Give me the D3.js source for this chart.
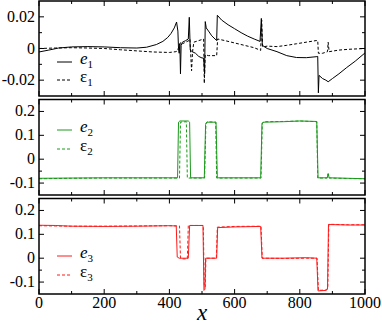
<!DOCTYPE html>
<html><head><meta charset="utf-8">
<script src="https://cdn.jsdelivr.net/npm/d3@7"></script>
<style>body{margin:0;background:#fff}svg{display:block}text{font-family:"Liberation Serif","Times New Roman",Times,"DejaVu Serif",serif}</style>
</head><body>
<script>
// ---- data ----
const xTicks = [0,200,400,600,800,1000];
const xMinor = [100,300,500,700,900];
const yTicks1 = [-0.02,0,0.02];
const yMinor1 = [-0.01,0.01];
const yTicks23 = [-0.1,0,0.1,0.2];
const yMinor23 = [-0.05];
const yLabels1 = ["-0.02","0","0.02"];
const yLabels23 = ["-0.1","0","0.1","0.2"];

const e1 = [[0,-0.0022],[30,-0.001],[60,0.0003],[100,0.001],[150,0.0012],[200,0.001],[250,0.0005],[300,0.0003],[330,0.0008],[360,0.0025],[380,0.0045],[395,0.007],[405,0.0095],[415,0.013],[422,0.0167],[426,0.011],[428,0.0],[430,-0.003],[432,0.003],[434,-0.016],[436,0.002],[440,0.004],[450,0.005],[458,0.006],[461,0.0197],[464,-0.001],[470,-0.002],[480,-0.003],[490,-0.005],[500,-0.006],[505,-0.006],[508,-0.016],[510,0.017],[513,0.013],[520,0.011],[530,0.008],[540,0.006],[545,0.005],[547,0.021],[560,0.018],[580,0.015],[600,0.0125],[620,0.01],[640,0.0078],[660,0.006],[678,0.0045],[682,0.019],[685,0.002],[700,0.0],[730,-0.002],[760,-0.0045],[790,-0.0057],[820,-0.0058],[850,-0.0052],[855,-0.005],[857,-0.028],[859,-0.017],[870,-0.019],[880,-0.02],[887,-0.021],[900,-0.019],[920,-0.016],[944,-0.012],[970,-0.008],[1000,-0.0028]];
const eps1 = [[0,0],[50,0.0003],[100,0.0005],[150,0.0003],[200,0],[250,-0.0008],[300,-0.0015],[350,-0.0022],[400,-0.0025],[420,-0.002],[425,-0.0015],[430,0.002],[435,0.004],[440,0.003],[450,0.004],[460,0.005],[463,0.006],[468,-0.014],[471,-0.002],[475,0.004],[490,0.005],[505,0.006],[507,-0.022],[510,-0.004],[520,-0.0045],[545,-0.0045],[548,0.006],[570,0.005],[600,0.0035],[630,0.002],[660,0.0005],[680,-0.0012],[683,0.018],[686,0.001],[700,0.0015],[730,0.0012],[760,0.002],[790,0.003],[820,0.004],[850,0.005],[855,0.005],[857,-0.003],[870,-0.003],[885,-0.002],[887,0.004],[890,-0.002],[920,-0.001],[950,-0.0005],[1000,0]];

const e2 = [[0,-0.08],[100,-0.079],[200,-0.078],[300,-0.078],[400,-0.078],[425,-0.078],[428,0.155],[432,0.16],[458,0.16],[462,0.155],[465,-0.078],[507,-0.078],[511,0.145],[515,0.155],[543,0.155],[547,-0.078],[680,-0.078],[684,0.15],[690,0.155],[750,0.157],[800,0.16],[852,0.158],[856,-0.078],[884,-0.078],[887,-0.06],[890,-0.078],[950,-0.08],[1000,-0.082]];
const eps2 = [[0,-0.082],[100,-0.08],[200,-0.079],[300,-0.079],[400,-0.079],[431,-0.079],[434,0.155],[452,0.157],[455,-0.079],[508,-0.079],[512,0.15],[516,0.157],[542,0.155],[545,-0.079],[681,-0.079],[685,0.152],[690,0.157],[750,0.158],[800,0.16],[852,0.157],[855,-0.079],[884,-0.079],[887,-0.062],[890,-0.079],[950,-0.081],[1000,-0.082]];

const e3 = [[0,0.138],[50,0.137],[100,0.134],[200,0.133],[300,0.134],[400,0.136],[421,0.135],[424,0.005],[430,0.0],[458,0.0],[462,0.137],[503,0.137],[506,-0.135],[509,-0.13],[511,0.0],[545,0.0],[548,0.128],[600,0.131],[680,0.133],[684,0.0],[750,0.0],[820,0.002],[852,0.0],[856,-0.137],[880,-0.135],[885,-0.13],[888,0.141],[950,0.139],[1000,0.139]];
const eps3 = [[0,0.136],[100,0.134],[200,0.134],[300,0.135],[400,0.136],[431,0.135],[434,0.0],[440,-0.003],[455,-0.003],[458,0.137],[504,0.137],[507,-0.12],[510,-0.12],[512,0.0],[544,0.0],[547,0.13],[600,0.133],[681,0.134],[685,0.0],[750,-0.001],[820,0.0],[853,0.0],[857,-0.135],[882,-0.133],[886,-0.12],[889,0.142],[950,0.14],[1000,0.14]];

const legendNames = [["e","1","ε","1"],["e","2","ε","2"],["e","3","ε","3"]];
const colors = ["#000000","#1a9a1a","#ff1a1a"];

// ---- layout ----
const W = 382, H = 326;
const left = 39, right = 365;
const panels = [
  {top:1, bottom:96, dom:[-0.03,0.03], ticks:yTicks1, minor:yMinor1, labels:yLabels1, s:e1, d:eps1, leg:[62,80]},
  {top:99.5, bottom:195, dom:[-0.15,0.25], ticks:yTicks23, minor:yMinor23, labels:yLabels23, s:e2, d:eps2, leg:[130,149]},
  {top:198.5, bottom:294, dom:[-0.15,0.25], ticks:yTicks23, minor:yMinor23, labels:yLabels23, s:e3, d:eps3, leg:[256,275]}
];

const svg = d3.select("body").append("svg").attr("width",W).attr("height",H);
svg.append("rect").attr("width",W).attr("height",H).attr("fill","#fff");
const x = d3.scaleLinear().domain([0,1000]).range([left,right]);

panels.forEach((p,i)=>{
  const y = d3.scaleLinear().domain(p.dom).range([p.bottom,p.top]);
  const clipId = "clip"+i;
  svg.append("clipPath").attr("id",clipId).append("rect")
    .attr("x",left).attr("y",p.top).attr("width",right-left).attr("height",p.bottom-p.top);
  const line = d3.line().x(d=>x(d[0])).y(d=>y(d[1]));
  const g = svg.append("g").attr("clip-path",`url(#${clipId})`);
  g.append("path").datum(p.d).attr("d",line).attr("fill","none")
    .attr("stroke",colors[i]).attr("stroke-width",1).attr("stroke-dasharray","3,2");
  g.append("path").datum(p.s).attr("d",line).attr("fill","none")
    .attr("stroke",colors[i]).attr("stroke-width",1);

  const tg = svg.append("g").attr("stroke","#000").attr("stroke-width",1);
  const addY = (vals,len)=>vals.forEach(v=>{
    tg.append("line").attr("x1",left).attr("x2",left+len).attr("y1",y(v)).attr("y2",y(v));
    tg.append("line").attr("x1",right).attr("x2",right-len).attr("y1",y(v)).attr("y2",y(v));
  });
  addY(p.ticks,5); addY(p.minor,3);
  const addX = (vals,len)=>vals.forEach(v=>{
    tg.append("line").attr("x1",x(v)).attr("x2",x(v)).attr("y1",p.bottom).attr("y2",p.bottom-len);
    tg.append("line").attr("x1",x(v)).attr("x2",x(v)).attr("y1",p.top).attr("y2",p.top+len);
  });
  addX(xTicks,5); addX(xMinor,3);

  svg.append("rect").attr("x",left).attr("y",p.top).attr("width",right-left).attr("height",p.bottom-p.top)
    .attr("fill","none").attr("stroke","#000").attr("stroke-width",1.5);

  p.ticks.forEach((v,k)=>{
    svg.append("text").attr("x",35).attr("y",y(v)+5).attr("text-anchor","end")
      .attr("font-size",16).text(p.labels[k]);
  });

  const nm = legendNames[i];
  [0,1].forEach(k=>{
    const ly = p.leg[k];
    svg.append("line").attr("x1",57).attr("x2",72).attr("y1",ly).attr("y2",ly)
      .attr("stroke",colors[i]).attr("stroke-width",1)
      .attr("stroke-dasharray",k===1?"3,2":null);
    const t = svg.append("text").attr("x",80).attr("y",ly+2).attr("font-size",17);
    t.append("tspan").attr("font-style",k===0?"italic":"normal").text(nm[k*2]);
    t.append("tspan").attr("font-size",11).attr("dy",4).text(nm[k*2+1]);
  });
});

xTicks.forEach(v=>{
  svg.append("text").attr("x",x(v)).attr("y",308).attr("text-anchor","middle")
    .attr("font-size",16).text(v);
});
svg.append("text").attr("x",(left+right)/2).attr("y",320).attr("text-anchor","middle")
  .attr("font-size",23).attr("font-style","italic").text("x");
</script>
</body></html>
